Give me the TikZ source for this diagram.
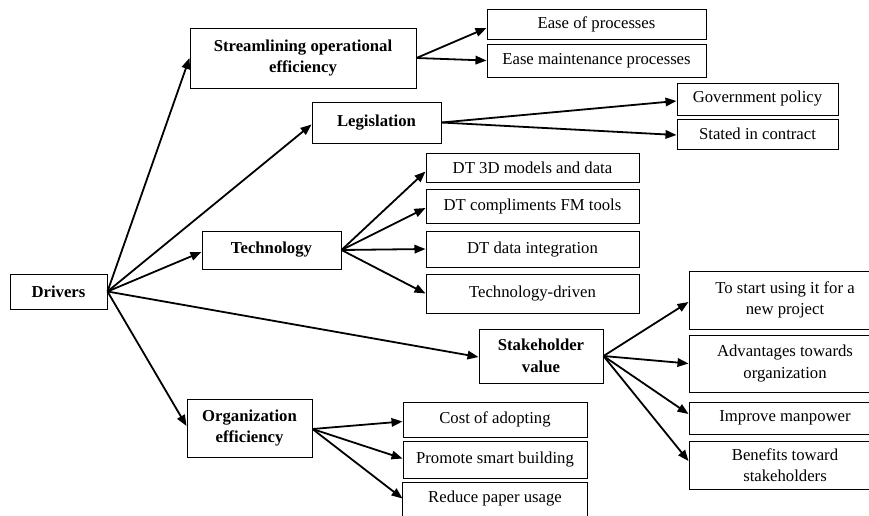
\documentclass[tikz,border=0pt]{standalone}
\usepackage{fontspec}
\setmainfont{Liberation Serif}
\usetikzlibrary{arrows.meta}
\begin{document}
\begin{tikzpicture}[x=1pt,y=-1pt,
  box/.style={draw, line width=1pt, align=center, inner sep=0pt,
    font=\fontsize{16.7}{21.5}\selectfont},
  headbox/.style={box, font=\fontsize{16.7}{21.5}\selectfont\bfseries},
  link/.style={line width=1.8pt, -{Triangle[length=11pt,width=8.5pt]}}]
\clip (0,0) rectangle (869,515);
\fill[white] (0,0) rectangle (869,515);

% root and first-level drivers
\node[headbox, minimum width=97pt, minimum height=35pt] (drv) at (58.5,291.5) {Drivers};
\node[headbox, minimum width=226pt, minimum height=60pt] (stream) at (303,58) {Streamlining operational\\efficiency};
\node[headbox, minimum width=129pt, minimum height=41pt] (legis) at (376.5,122.5) {Legislation};
\node[headbox, minimum width=139pt, minimum height=38pt] (tech) at (271.5,250) {Technology};
\node[headbox, minimum width=124pt, minimum height=54pt] (stake) at (541,356) {Stakeholder\\value};
\node[headbox, minimum width=125pt, minimum height=58pt] (org) at (249.5,428) {Organization\\efficiency};

% streamlining
\node[box, minimum width=219pt, minimum height=30pt] (ease1) at (596.5,24) {Ease of processes};
\node[box, minimum width=219pt, minimum height=33pt] (ease2) at (596.5,60.5) {Ease maintenance processes};

% legislation
\node[box, minimum width=161pt, minimum height=32pt] (gov) at (757.5,99) {Government policy};
\node[box, minimum width=161pt, minimum height=30pt] (contract) at (757.5,134) {Stated in contract};

% technology
\node[box, minimum width=213pt, minimum height=29pt] (dt1) at (532.5,167.5) {DT 3D models and data};
\node[box, minimum width=213pt, minimum height=34pt] (dt2) at (532.5,206) {DT compliments FM tools};
\node[box, minimum width=213pt, minimum height=36pt] (dt3) at (532.5,249) {DT data integration};
\node[box, minimum width=213pt, minimum height=39pt] (dt4) at (532.5,293.5) {Technology-driven};

% stakeholder value
\node[box, minimum width=192pt, minimum height=58pt] (sv1) at (785,300) {To start using it for a\\new project};
\node[box, minimum width=192pt, minimum height=57pt] (sv2) at (785,363.5) {Advantages towards\\organization};
\node[box, minimum width=192pt, minimum height=32pt] (sv3) at (785,418) {Improve manpower};
\node[box, minimum width=192pt, minimum height=48pt] (sv4) at (785,465) {Benefits toward\\stakeholders};

% organization efficiency
\node[box, minimum width=184pt, minimum height=35pt] (oe1) at (495,419.5) {Cost of adopting};
\node[box, minimum width=184pt, minimum height=37pt] (oe2) at (495,459.5) {Promote smart building};
\node[box, draw=none, minimum width=184pt, minimum height=32pt, anchor=north] (oe3) at (495,482) {Reduce paper usage};
\draw[line width=1pt] ([yshift=-20pt]oe3.south west) -- (oe3.north west) -- (oe3.north east) -- ([yshift=-20pt]oe3.south east);

% connectors
\draw[link] (drv.east) -- (stream.west);
\draw[link] (drv.east) -- ([yshift=-2pt]legis.west);
\draw[link] (drv.east) -- ([yshift=-2pt]tech.west);
\draw[link] (drv.east) -- ([yshift=-1pt]stake.west);
\draw[link] (drv.east) -- ([yshift=2pt]org.west);

\draw[link] (stream.east) -- ([yshift=-4pt]ease1.west);
\draw[link] (stream.east) -- (ease2.west);

\draw[link] (legis.east) -- ([yshift=-2pt]gov.west);
\draw[link] (legis.east) -- ([yshift=-1pt]contract.west);

\draw[link] (tech.east) -- ([yshift=-4pt]dt1.west);
\draw[link] (tech.east) -- ([yshift=-2pt]dt2.west);
\draw[link] (tech.east) -- (dt3.west);
\draw[link] (tech.east) -- (dt4.west);

\draw[link] (stake.east) -- ([yshift=-2pt]sv1.west);
\draw[link] (stake.east) -- (sv2.west);
\draw[link] (stake.east) -- ([yshift=4pt]sv3.west);
\draw[link] (stake.east) -- ([yshift=4pt]sv4.west);

\draw[link] ([yshift=-1pt]org.east) -- ([yshift=-2pt]oe1.west);
\draw[link] ([yshift=-1pt]org.east) -- ([yshift=1pt]oe2.west);
\draw[link] ([yshift=-1pt]org.east) -- (oe3.west);
\end{tikzpicture}
\end{document}
